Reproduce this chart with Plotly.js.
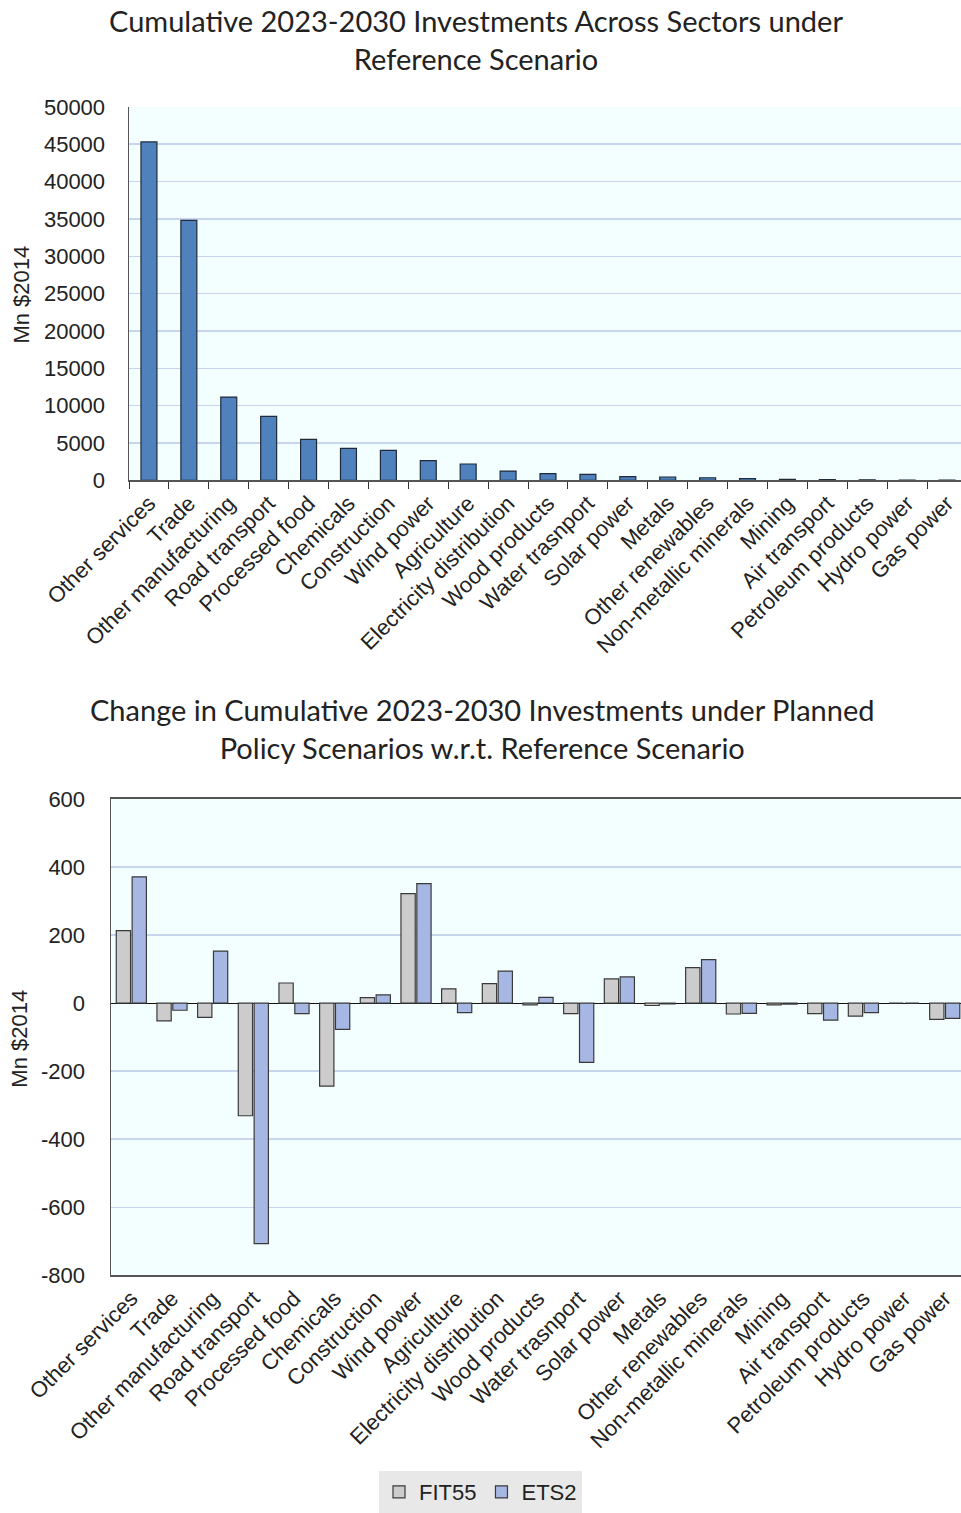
<!DOCTYPE html>
<html>
<head>
<meta charset="utf-8">
<script src="https://cdn.plot.ly/plotly-3.0.1.min.js"></script>
<style>
html,body{margin:0;padding:0;background:#fff;}
#chart{width:961px;height:1513px;}
</style>
</head>
<body>
<div id="chart"></div>
<script>
const sectors = ["Other services","Trade","Other manufacturing","Road transport","Processed food","Chemicals","Construction","Wind power","Agriculture","Electricity distribution","Wood products","Water trasnport","Solar power","Metals","Other renewables","Non-metallic minerals","Mining","Air transport","Petroleum products","Hydro power","Gas power"];
const referenceInvest = [45300,34800,11150,8560,5480,4280,4010,2630,2190,1250,900,800,500,450,350,250,150,100,80,50,30];
const fit55Change = [213,-52,-42,-331,59,-244,16,322,42,57,-5,-31,71,-7,104,-32,-5,-31,-38,0,-48];
const ets2Change = [371,-21,153,-707,-31,-77,24,351,-28,94,17,-174,77,-2,128,-30,-3,-50,-28,0,-45];
const topYTicks = [0,5000,10000,15000,20000,25000,30000,35000,40000,45000,50000];
const bottomYTicks = [-800,-600,-400,-200,0,200,400,600];

const H = 1513, W = 961;
const py = p => 1 - p / H;
const px = p => p / W;

const tickFont = {family:"Liberation Sans, Arial, sans-serif", size:22, color:"#222"};
const titleFont = {family:"Lato, Open Sans, sans-serif", size:29, color:"#222"};

const traces = [
  {type:"bar", x:sectors, y:referenceInvest, xaxis:"x", yaxis:"y", name:"Reference", showlegend:false,
   width:0.4,
   marker:{color:"#4F81BD", line:{color:"#1f2a3a", width:1.2}}},
  {type:"bar", x:sectors, y:fit55Change, xaxis:"x2", yaxis:"y2", name:"FIT55",
   marker:{color:"#CCCCCC", line:{color:"#3a3a3a", width:1.2}}},
  {type:"bar", x:sectors, y:ets2Change, xaxis:"x2", yaxis:"y2", name:"ETS2",
   marker:{color:"#A6B7E3", line:{color:"#3a3a3a", width:1.2}}}
];

const layout = {
  width:W, height:H,
  margin:{l:0,r:0,t:0,b:0},
  paper_bgcolor:"#ffffff",
  plot_bgcolor:"#F3FEFF",
  barmode:"group",
  bargap:0.22,
  bargroupgap:0.1,
  showlegend:true,
  legend:{orientation:"h", x:0.5, xanchor:"center", y:py(1473), yanchor:"top",
          bgcolor:"#E8E8E8", font:{family:"Liberation Sans, Arial, sans-serif", size:22, color:"#222"},
          itemwidth:30, traceorder:"normal"},
  xaxis:{domain:[px(129),1], anchor:"y", type:"category", range:[-0.5,20.35],
         showline:true, linecolor:"#555", linewidth:1.5, mirror:false,
         ticks:"outside", tickson:"boundaries", ticklen:7, tickcolor:"#333",
         tickangle:-45, tickfont:tickFont, showgrid:false},
  yaxis:{domain:[py(481),py(107)], anchor:"x", range:[0,50000], tickvals:topYTicks,
         ticktext:topYTicks.map(String),
         showline:true, linecolor:"#555", linewidth:1.5, mirror:true,
         gridcolor:"#C8D5EF", gridwidth:1.5, zeroline:false,
         ticks:"", tickfont:tickFont, ticklabelstandoff:18},
  xaxis2:{domain:[px(111),1], anchor:"y2", type:"category", range:[-0.5,20.4],
          showline:true, linecolor:"#555", linewidth:1.5, mirror:true,
          ticks:"", tickangle:-45, tickfont:tickFont, showgrid:false},
  yaxis2:{domain:[py(1277),py(800)], anchor:"x2", range:[-800,600], tickvals:bottomYTicks,
          ticktext:bottomYTicks.map(String),
          showline:true, linecolor:"#555", linewidth:1.5, mirror:true,
          gridcolor:"#C8D5EF", gridwidth:1.5,
          zeroline:true, zerolinecolor:"#111", zerolinewidth:1.2,
          ticks:"", tickfont:tickFont, ticklabelstandoff:20},
  annotations:[
    {text:"Cumulative 2023-2030 Investments Across Sectors under<br>Reference Scenario",
     xref:"paper", yref:"paper", x:px(476), y:py(40), xanchor:"center", yanchor:"middle",
     showarrow:false, font:titleFont, align:"center"},
    {text:"Change in Cumulative 2023-2030 Investments under Planned<br>Policy Scenarios w.r.t. Reference Scenario",
     xref:"paper", yref:"paper", x:px(482), y:py(729), xanchor:"center", yanchor:"middle",
     showarrow:false, font:titleFont, align:"center"},
    {text:"Mn $2014", xref:"paper", yref:"paper", x:px(22), y:py(295), textangle:-90,
     xanchor:"center", yanchor:"middle", showarrow:false, font:tickFont},
    {text:"Mn $2014", xref:"paper", yref:"paper", x:px(20), y:py(1040), textangle:-90,
     xanchor:"center", yanchor:"middle", showarrow:false, font:tickFont}
  ]
};

Plotly.newPlot("chart", traces, layout, {displayModeBar:false, staticPlot:true});
</script>
</body>
</html>
